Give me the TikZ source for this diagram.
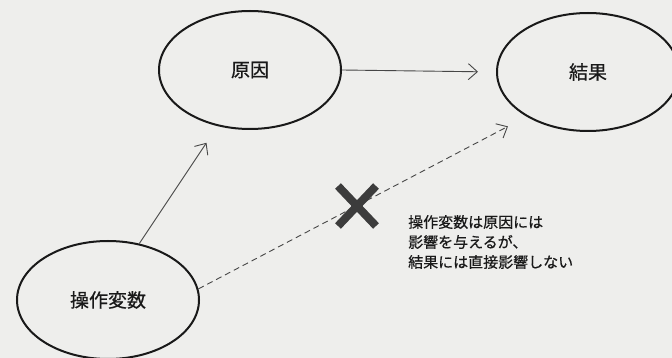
\documentclass[tikz,border=0pt]{standalone}
\usepackage{fontspec}
\setmainfont{Noto Sans CJK JP}
\newfontfamily\jpmed{Noto Sans CJK JP}[FakeBold=0.6]
\usetikzlibrary{shapes.geometric,arrows.meta}
\definecolor{paper}{RGB}{238,238,236}
\definecolor{ink}{RGB}{25,25,25}
\definecolor{linegray}{RGB}{70,70,70}
\definecolor{crossgray}{RGB}{60,60,60}
\tikzset{
  bubble/.style={ellipse, draw=ink, line width=2pt, minimum width=182pt, minimum height=118pt, inner sep=0pt, font=\jpmed\fontsize{19pt}{22pt}\selectfont, text=ink},
  arr/.style={draw=linegray, line width=0.9pt, -{Straight Barb[length=9pt,width=16pt,line width=0.9pt]}},
  dasharr/.style={arr, dash pattern=on 6pt off 4pt},
  crossline/.style={draw=crossgray, line width=8pt},
  note/.style={align=left, anchor=west, inner sep=0pt, text=ink, font=\jpmed\fontsize{15pt}{20pt}\selectfont}
}
\begin{document}
\begin{tikzpicture}[x=1pt,y=-1pt]
\fill[paper] (0,0) rectangle (672,358);
\useasboundingbox (0,0) rectangle (672,358);
\node[bubble] (cause) at (250,70) {原因};
\node[bubble] (res) at (588,72) {結果};
\node[bubble] (iv) at (108,300) {操作変数};
\draw[arr, shorten >=18pt] (cause.east) -- (res.west);
\draw[arr, shorten >=20pt] (iv.61) -- (cause.240);
\draw[dasharr, shorten >=21pt] (iv.7) -- (res.216);
\coordinate (xmark) at (357,206);
\draw[crossline] ([shift={(-19,-20)}]xmark) -- ([shift={(19,20)}]xmark);
\draw[crossline] ([shift={(19,-20)}]xmark) -- ([shift={(-19,20)}]xmark);
\node[note] (txt) at (408,242) {操作変数は原因には\\影響を与えるが、\\結果には直接影響しない};
\end{tikzpicture}
\end{document}
